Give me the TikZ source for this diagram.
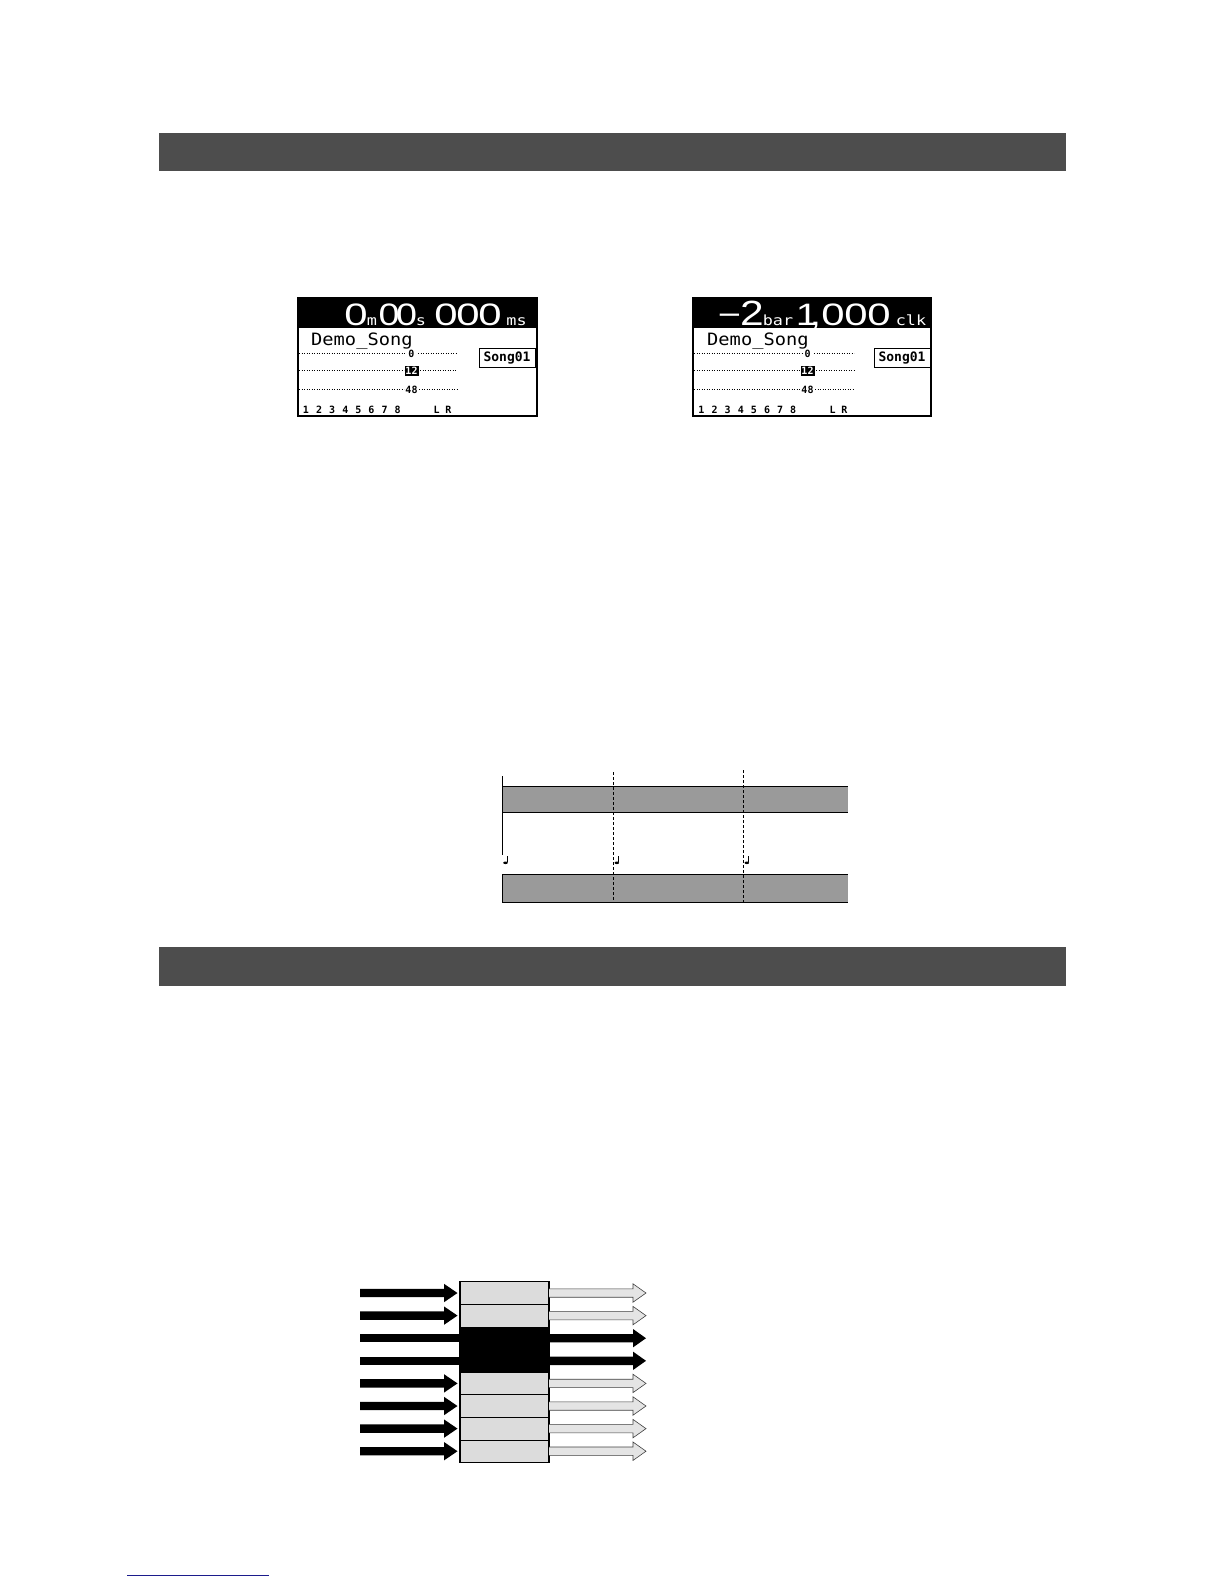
\documentclass[tikz,border=0pt]{standalone}
\usepackage{fontspec}
\setmainfont{Liberation Sans}
\newfontfamily\lcdmono{DejaVu Sans Mono}
\definecolor{hdrgray}{HTML}{4D4D4D}
\definecolor{bargray}{HTML}{9A9A9A}
\definecolor{boxgray}{HTML}{DCDCDC}
\definecolor{arrgray}{HTML}{E4E4E4}
\definecolor{linkblue}{HTML}{1C1C8C}
\begin{document}
\begin{tikzpicture}[x=1pt,y=-1pt,
  sechdr/.style={fill=hdrgray,draw=none},
  lcdframe/.style={draw=black,line width=1.1pt,fill=white},
  bigdig/.style={text=white,font=\fontsize{31}{31}\selectfont,inner sep=0pt,anchor=base,xscale=1.35},
  smalltxt/.style={text=white,font=\lcdmono\fontsize{14}{14}\selectfont,inner sep=0pt,anchor=base,xscale=1.2},
  songtxt/.style={font=\lcdmono\fontsize{17}{17}\selectfont,inner sep=0pt,anchor=base west,xscale=1.1},
  marktxt/.style={font=\lcdmono\bfseries\fontsize{10}{10}\selectfont,inner sep=0pt,anchor=base},
  chtxt/.style={font=\lcdmono\bfseries\fontsize{10}{10}\selectfont,inner sep=0pt,anchor=base},
  songbox/.style={draw=black,line width=1pt,font=\lcdmono\bfseries\fontsize{13}{13}\selectfont,inner sep=1pt,minimum width=56pt,minimum height=19pt},
  dots/.style={line width=0.9pt,dash pattern=on 0.9pt off 1.6pt},
  tlbar/.style={fill=bargray},
  tldash/.style={line width=0.8pt,dash pattern=on 3pt off 2pt},
  notehead/.style={fill=black},
  lightarrow/.style={fill=arrgray,draw=black!75,line width=0.6pt}
]
\useasboundingbox (0,0) rectangle (1224,1584);

% section header bars
\fill[sechdr] (159,132.7) rectangle (1065.7,170.7);
\fill[sechdr] (159,947.3) rectangle (1065.7,986);

% ================= LCD 1 =================
\draw[lcdframe] (298,297.5) rectangle (537,416);
\fill[black] (298,297.5) rectangle (537,328);
\node[bigdig] (a0) at (356,325) {0};
\node[smalltxt] (am) at (372,325) {m};
\node[bigdig,xscale=0.9] (a1) at (389,325) {0};
\node[bigdig,xscale=0.9] (a2) at (406.5,325) {0};
\node[smalltxt] (as) at (421,325) {s};
\node[bigdig] (a3) at (446,325) {0};
\node[bigdig] (a4) at (468,325) {0};
\node[bigdig] (a5) at (490,325) {0};
\node[smalltxt] (ams) at (516.5,325) {ms};
\node[songtxt] (aname) at (311,345.5) {Demo\_Song};
\draw[dots] (299,353) -- (406,353);
\node[marktxt] (am0) at (411.5,357) {0};
\draw[dots] (418,353) -- (457,353);
\draw[dots] (299,370.5) -- (404,370.5);
\fill[black] (404.5,365.5) rectangle (418.5,375.5);
\node[marktxt,text=white] (am12) at (411.5,374.5) {12};
\draw[dots] (420,370.5) -- (457,370.5);
\draw[dots] (299,389) -- (404,389);
\node[marktxt] (am48) at (411.5,393) {48};
\draw[dots] (419,389) -- (457,389);
\node[songbox] (asong) at (507,358) {Song01};
\foreach \i in {1,...,8} {
  \node[chtxt] (ach\i) at ({306+13.1*(\i-1)},413) {\i};
}
\node[chtxt] (achL) at (436.7,413) {L};
\node[chtxt] (achR) at (448.3,413) {R};

% ================= LCD 2 =================
\draw[lcdframe] (693,297.5) rectangle (931,416);
\fill[black] (693,297.5) rectangle (931,328);
\node[bigdig,xscale=0.95] (b0) at (729.5,325) {−};
\node[bigdig,font=\fontsize{35}{35}\selectfont,xscale=0.9] (b1) at (752,325) {2};
\node[smalltxt] (bbar) at (778,325) {bar};
\node[bigdig,xscale=0.95] (b2) at (807,325) {1};
\node[bigdig] (b3) at (815.5,325) {,};
\node[bigdig] (b4) at (833,325) {0};
\node[bigdig] (b5) at (856,325) {0};
\node[bigdig] (b6) at (879,325) {0};
\node[smalltxt] (bclk) at (911,325) {clk};
\node[songtxt] (bname) at (707,345.5) {Demo\_Song};
\draw[dots] (694,353) -- (802,353);
\node[marktxt] (bm0) at (807.5,357) {0};
\draw[dots] (814,353) -- (854,353);
\draw[dots] (694,370.5) -- (800,370.5);
\fill[black] (800.5,365.5) rectangle (814.5,375.5);
\node[marktxt,text=white] (bm12) at (807.5,374.5) {12};
\draw[dots] (816,370.5) -- (854,370.5);
\draw[dots] (694,389) -- (800,389);
\node[marktxt] (bm48) at (807.5,393) {48};
\draw[dots] (815,389) -- (854,389);
\node[songbox] (bsong) at (902,358) {Song01};
\foreach \i in {1,...,8} {
  \node[chtxt] (bch\i) at ({701.5+13.1*(\i-1)},413) {\i};
}
\node[chtxt] (bchL) at (832.7,413) {L};
\node[chtxt] (bchR) at (844.3,413) {R};

% ================= timeline =================
\fill[tlbar] (502,786) rectangle (848,812);
\draw[line width=0.9pt] (502,786) -- (848,786);
\draw[line width=0.9pt] (502,812) -- (848,812);
\fill[tlbar] (502,874) rectangle (848,902);
\draw[line width=0.9pt] (502,874) -- (848,874);
\draw[line width=0.9pt] (502,902) -- (848,902);
\draw[line width=0.9pt] (502,776) -- (502,855);
\draw[line width=0.9pt] (502,874) -- (502,902);
\draw[tldash] (613.3,772) -- (613.3,902);
\draw[tldash] (743.3,770) -- (743.3,902);
\foreach \nx in {502,613.3,743.3} {
  \draw[line width=0.8pt] (\nx+5.5,856) -- (\nx+5.5,862);
  \fill[notehead] (\nx+3.5,862.8) ellipse [x radius=2.3pt, y radius=1.3pt];
}

% ================= routing diagram =================
\fill[boxgray] (460,1281.7) rectangle (549,1462.5);
\fill[black] (460,1326.9) rectangle (549,1372.1);
\foreach \k in {1,5,6,7} {
  \pgfmathsetmacro{\yb}{1281.7+22.6*\k}
  \draw[line width=0.8pt] (460,\yb) -- (549,\yb);
}
\draw[line width=1.1pt] (460,1372.1) -- (549,1372.1);
\draw[line width=1.2pt] (460,1281.7) rectangle (549,1462.5);

\foreach \k in {0,1,4,5,6,7} {
  \pgfmathsetmacro{\c}{1281.7+22.6*(\k+0.5)}
  \fill[black] (360,\c-4.2) -- (444,\c-4.2) -- (444,\c-9.2) -- (457.5,\c) -- (444,\c+9.2) -- (444,\c+4.2) -- (360,\c+4.2) -- cycle;
  \filldraw[lightarrow] (549,\c-4.2) -- (633,\c-4.2) -- (633,\c-9.2) -- (646,\c) -- (633,\c+9.2) -- (633,\c+4.2) -- (549,\c+4.2);
}
\foreach \k in {2,3} {
  \pgfmathsetmacro{\c}{1281.7+22.6*(\k+0.5)}
  \fill[black] (360,\c-4.2) rectangle (460,\c+4.2);
  \fill[black] (549,\c-4.2) -- (633,\c-4.2) -- (633,\c-9.2) -- (646,\c) -- (633,\c+9.2) -- (633,\c+4.2) -- (549,\c+4.2) -- cycle;
}

% link underline
\draw[linkblue,line width=1pt] (127,1575) -- (269,1575);
\end{tikzpicture}
\end{document}
